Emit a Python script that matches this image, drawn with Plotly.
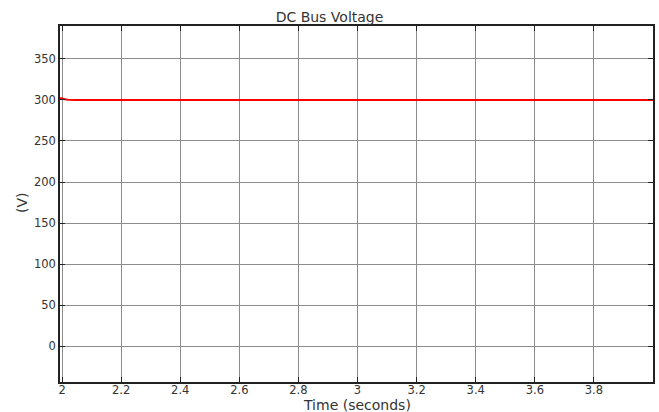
import plotly.graph_objects as go

time_s = [1.993, 2.0, 2.005, 2.01, 2.02, 2.05, 2.1, 2.3, 2.6, 3.0, 3.4, 3.8, 4.0]
voltage_v = [302, 302, 301, 300.5, 300.2, 300, 300, 300, 300, 300, 300, 300, 300]
x_ticks = [2, 2.2, 2.4, 2.6, 2.8, 3, 3.2, 3.4, 3.6, 3.8]
x_labels = ["2", "2.2", "2.4", "2.6", "2.8", "3", "3.2", "3.4", "3.6", "3.8"]
y_ticks = [0, 50, 100, 150, 200, 250, 300, 350]

W, H = 659, 412
fig = go.Figure()
fig.add_trace(go.Scatter(x=time_s, y=voltage_v, mode="lines",
                         line=dict(color="#ff0000", width=2), showlegend=False))

fig.update_layout(
    width=W, height=H,
    margin=dict(l=60, r=6, t=26, b=30, autoexpand=False),
    paper_bgcolor="white", plot_bgcolor="white",
    font=dict(family="DejaVu Sans, Liberation Sans, sans-serif", size=12, color="#333"),
    title=dict(text="DC Bus Voltage", x=0.5, xanchor="center",
               y=(H - 17) / H, yanchor="middle",
               font=dict(size=14, color="#333")),
    annotations=[
        dict(text="Time (seconds)", xref="paper", yref="paper",
             x=0.5, y=-(405 - 382) / 356, xanchor="center", yanchor="middle",
             showarrow=False, font=dict(size=14, color="#333")),
        dict(text="(V)", xref="paper", yref="paper",
             x=-(60 - 22) / 593, y=(382 - 203) / 356, xanchor="center", yanchor="middle",
             textangle=-90, showarrow=False, font=dict(size=14, color="#333")),
    ],
)
fig.update_xaxes(range=[1.993, 4.0], tickvals=x_ticks, ticktext=x_labels,
                 showgrid=True, gridcolor="#8c8c8c", gridwidth=1,
                 showline=True, linecolor="#222", linewidth=1.5, mirror="ticks",
                 ticks="inside", ticklen=5, tickcolor="#222", zeroline=False,
                 automargin=False, ticklabelstandoff=-4, tickfont=dict(size=11.5))
fig.update_yaxes(range=[-43.5, 390], tickvals=y_ticks,
                 showgrid=True, gridcolor="#8c8c8c", gridwidth=1,
                 showline=True, linecolor="#222", linewidth=1.5, mirror="ticks",
                 ticks="inside", ticklen=5, tickcolor="#222", zeroline=False,
                 automargin=False, tickfont=dict(size=11.5))

fig.write_html("out.html")
